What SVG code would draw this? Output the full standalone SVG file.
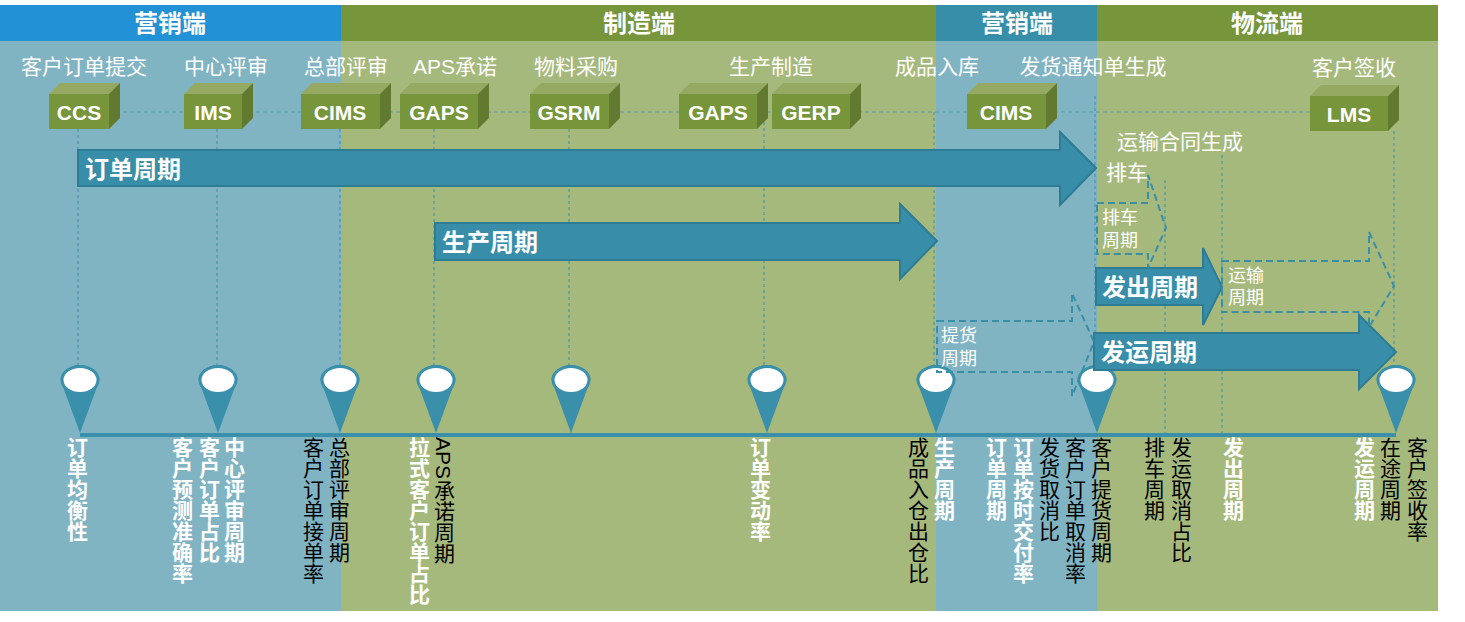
<svg xmlns="http://www.w3.org/2000/svg" width="1465" height="622" viewBox="0 0 1465 622">
<style>
.hdr{font-family:"Liberation Sans","Noto Sans CJK SC",sans-serif;font-size:24px;font-weight:bold;fill:#fff;text-anchor:middle}
.stage{font-family:"Liberation Sans","Noto Sans CJK SC",sans-serif;font-size:21px;fill:#fff;text-anchor:middle}
.box{font-family:"Liberation Sans","Noto Sans CJK SC",sans-serif;font-size:21px;font-weight:bold;fill:#fff;text-anchor:middle}
.bf{fill:#77953A}
.bt{fill:#95A963}
.br{fill:#627A2F}
.arr{fill:#388EA8;stroke:#2E7C94;stroke-width:2}
.alab{font-family:"Liberation Sans","Noto Sans CJK SC",sans-serif;font-size:24px;font-weight:bold;fill:#fff}
.darr{fill:none;stroke:#3A8FA8;stroke-width:2;stroke-dasharray:7,4}
.dlab{font-family:"Liberation Sans","Noto Sans CJK SC",sans-serif;font-size:18px;fill:#fff}
.guide{stroke:#3A8FA8;stroke-width:1;stroke-dasharray:3,3;fill:none}
.hguide{stroke:#5A9AA8;stroke-width:1;stroke-dasharray:4,3;fill:none}
.pin{fill:#3A8FAA}
.pinw{fill:#fff}
.vw{font-family:"Liberation Sans","Noto Sans CJK SC",sans-serif;font-size:21px;font-weight:bold;fill:#fff;writing-mode:vertical-rl}
.vb{font-family:"Liberation Sans","Noto Sans CJK SC",sans-serif;font-size:21px;fill:#000;writing-mode:vertical-rl}
</style>
<defs>
<g id="pinShape">
<path class="pin" d="M-19.5,380 A19.5,15 0 0 1 19.5,380 L0,433 Z"/>
<ellipse class="pin" cx="0" cy="380" rx="19.5" ry="15"/>
<ellipse class="pinw" cx="0" cy="380" rx="16.5" ry="12"/>
</g>
</defs>
<rect x="0" y="0" width="1465" height="622" fill="#fff"/>
<g id="background">
<rect x="0" y="5" width="341" height="36" fill="#2391D5"/>
<rect x="341" y="5" width="595" height="36" fill="#77953B"/>
<rect x="936" y="5" width="161" height="36" fill="#378EA8"/>
<rect x="1097" y="5" width="341" height="36" fill="#77953B"/>
<rect x="0" y="41" width="341" height="570" fill="#81B4C3"/>
<rect x="341" y="41" width="595" height="570" fill="#A6B97D"/>
<rect x="936" y="41" width="161" height="570" fill="#81B4C3"/>
<rect x="1097" y="41" width="341" height="570" fill="#A6B97D"/>
<text class="hdr" x="170" y="32">营销端</text>
<text class="hdr" x="639" y="32">制造端</text>
<text class="hdr" x="1017" y="32">营销端</text>
<text class="hdr" x="1267" y="32">物流端</text>
</g>
<g id="stage-labels">
<text class="stage" x="84" y="74">客户订单提交</text>
<text class="stage" x="226" y="74">中心评审</text>
<text class="stage" x="346" y="74">总部评审</text>
<text class="stage" x="455" y="74">APS承诺</text>
<text class="stage" x="576" y="74">物料采购</text>
<text class="stage" x="771" y="74">生产制造</text>
<text class="stage" x="937" y="74">成品入库</text>
<text class="stage" x="1093" y="74">发货通知单生成</text>
<text class="stage" x="1354" y="75">客户签收</text>
<text class="stage" x="1180" y="149">运输合同生成</text>
<text class="stage" x="1127" y="180">排车</text>
</g>
<g id="connectors">
<line class="hguide" x1="109" y1="112" x2="1310" y2="112"/>
<line class="guide" x1="78" y1="129" x2="78" y2="366"/>
<line class="guide" x1="217" y1="129" x2="217" y2="366"/>
<line class="guide" x1="340" y1="129" x2="340" y2="366"/>
<line class="guide" x1="434" y1="129" x2="434" y2="366"/>
<line class="guide" x1="569" y1="129" x2="569" y2="366"/>
<line class="guide" x1="764" y1="122" x2="764" y2="366"/>
<line class="guide" x1="934" y1="112" x2="934" y2="366"/>
<line class="guide" x1="1095" y1="96" x2="1095" y2="366"/>
<line class="guide" x1="1165" y1="180" x2="1165" y2="434"/>
<line class="guide" x1="1222" y1="155" x2="1222" y2="434"/>
<line class="guide" x1="1394" y1="131" x2="1394" y2="366"/>
<rect x="80" y="433" width="1316" height="4" fill="#3A8FAA"/>
</g>
<g id="box-ccs"><rect class="bf" x="49" y="94" width="60" height="35"/><polygon class="bt" points="49,94 60,83 120,83 109,94"/><polygon class="br" points="109,94 120,83 120,118 109,129"/><text class="box" x="79" y="120">CCS</text></g>
<g id="box-ims"><rect class="bf" x="184" y="94" width="58" height="35"/><polygon class="bt" points="184,94 195,83 253,83 242,94"/><polygon class="br" points="242,94 253,83 253,118 242,129"/><text class="box" x="213" y="120">IMS</text></g>
<g id="box-cims1"><rect class="bf" x="301" y="94" width="79" height="35"/><polygon class="bt" points="301,94 312,83 391,83 380,94"/><polygon class="br" points="380,94 391,83 391,118 380,129"/><text class="box" x="340" y="120">CIMS</text></g>
<g id="box-gaps1"><rect class="bf" x="400" y="94" width="78" height="35"/><polygon class="bt" points="400,94 411,83 489,83 478,94"/><polygon class="br" points="478,94 489,83 489,118 478,129"/><text class="box" x="439" y="120">GAPS</text></g>
<g id="box-gsrm"><rect class="bf" x="530" y="94" width="79" height="35"/><polygon class="bt" points="530,94 541,83 620,83 609,94"/><polygon class="br" points="609,94 620,83 620,118 609,129"/><text class="box" x="569" y="120">GSRM</text></g>
<g id="box-gaps2"><rect class="bf" x="679" y="94" width="78" height="35"/><polygon class="bt" points="679,94 690,83 768,83 757,94"/><polygon class="br" points="757,94 768,83 768,118 757,129"/><text class="box" x="718" y="120">GAPS</text></g>
<g id="box-gerp"><rect class="bf" x="772" y="94" width="78" height="35"/><polygon class="bt" points="772,94 783,83 861,83 850,94"/><polygon class="br" points="850,94 861,83 861,118 850,129"/><text class="box" x="811" y="120">GERP</text></g>
<g id="box-cims2"><rect class="bf" x="967" y="94" width="79" height="35"/><polygon class="bt" points="967,94 978,83 1057,83 1046,94"/><polygon class="br" points="1046,94 1057,83 1057,118 1046,129"/><text class="box" x="1006" y="120">CIMS</text></g>
<g id="box-lms"><rect class="bf" x="1310" y="96" width="78" height="35"/><polygon class="bt" points="1310,96 1321,85 1399,85 1388,96"/><polygon class="br" points="1388,96 1399,85 1399,120 1388,131"/><text class="box" x="1349" y="122">LMS</text></g>
<g id="pins">
<use href="#pinShape" x="80"/>
<use href="#pinShape" x="218"/>
<use href="#pinShape" x="340"/>
<use href="#pinShape" x="436"/>
<use href="#pinShape" x="571"/>
<use href="#pinShape" x="767"/>
<use href="#pinShape" x="936"/>
<use href="#pinShape" x="1097"/>
<use href="#pinShape" x="1396"/>
</g>
<g id="arrow-order"><polygon class="arr" points="78,150 1060,150 1060,132 1096,168 1060,205 1060,186 78,186"/><text class="alab" x="85" y="178">订单周期</text></g>
<g id="arrow-production"><polygon class="arr" points="435,223 900,223 900,204 937,241 900,279 900,260 435,260"/><text class="alab" x="442" y="251">生产周期</text></g>
<g id="arrow-dispatch"><polygon class="arr" points="1096,268 1203,268 1203,248 1222,287 1203,325 1203,305 1096,305"/><text class="alab" x="1102" y="296">发出周期</text></g>
<g id="arrow-shipping"><polygon class="arr" points="1094,333 1359,333 1359,315 1396,352 1359,389 1359,370 1094,370"/><text class="alab" x="1101" y="361">发运周期</text></g>
<g id="arrow-scheduling"><polygon class="darr" points="1097,203 1148,203 1148,175 1166,228 1148,268 1148,254 1097,254"/><text class="dlab" x="1102" y="224">排车</text><text class="dlab" x="1102" y="247">周期</text></g>
<g id="arrow-transport"><polygon class="darr" points="1222,261 1369,261 1369,232 1394,286 1369,327 1369,312 1222,312"/><text class="dlab" x="1228" y="282">运输</text><text class="dlab" x="1228" y="304">周期</text></g>
<g id="arrow-pickup"><polygon class="darr" points="937,321 1072,321 1072,293 1094,342 1072,396 1072,372 937,372"/><text class="dlab" x="941" y="342">提货</text><text class="dlab" x="941" y="365">周期</text></g>
<g id="metrics">
<text class="vw" x="76" y="437">订单均衡性</text>
<text class="vw" x="181" y="437">客户预测准确率</text>
<text class="vw" x="208" y="437">客户订单占比</text>
<text class="vw" x="233" y="437">中心评审周期</text>
<text class="vb" x="312" y="437">客户订单接单率</text>
<text class="vb" x="338" y="437">总部评审周期</text>
<text class="vw" x="418" y="437">拉式客户订单占比</text>
<text class="vb" x="443" y="437">APS承诺周期</text>
<text class="vw" x="759" y="437">订单变动率</text>
<text class="vb" x="917" y="437">成品入仓出仓比</text>
<text class="vw" x="943" y="437">生产周期</text>
<text class="vw" x="995" y="437">订单周期</text>
<text class="vw" x="1022" y="437">订单按时交付率</text>
<text class="vb" x="1048" y="437">发货取消比</text>
<text class="vb" x="1074" y="437">客户订单取消率</text>
<text class="vb" x="1100" y="437">客户提货周期</text>
<text class="vb" x="1153" y="437">排车周期</text>
<text class="vb" x="1180" y="437">发运取消占比</text>
<text class="vw" x="1232" y="437">发出周期</text>
<text class="vw" x="1363" y="437">发运周期</text>
<text class="vb" x="1389" y="437">在途周期</text>
<text class="vb" x="1416" y="437">客户签收率</text>
</g>
</svg>
